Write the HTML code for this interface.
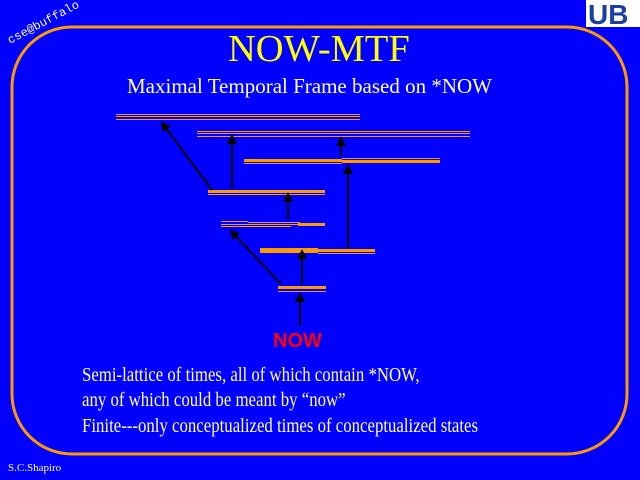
<!DOCTYPE html>
<html><head><style>
body{margin:0;width:640px;height:480px;background:#0000ff;overflow:hidden;position:relative;font-family:"Liberation Serif",serif}
.t{position:absolute;white-space:nowrap;color:#fff}
.b{font-size:20px;transform:scaleX(0.84);transform-origin:left}
</style></head><body>
<svg width="640" height="480" style="position:absolute;left:0;top:0">
<defs><marker id="a" markerWidth="10" markerHeight="10" refX="8" refY="5" orient="auto" markerUnits="userSpaceOnUse"><path d="M0,0 L10,5 L0,10 z" fill="#000"/></marker></defs>
<rect x="12" y="27" width="615" height="427" rx="60" ry="60" fill="none" stroke="#ff9900" stroke-width="3"/>
<g fill="#ff9900">
<rect x="116" y="114" width="244" height="1"/><rect x="116" y="116" width="244" height="1"/><rect x="116" y="119" width="244" height="1"/>
<rect x="197" y="131" width="273" height="1"/><rect x="197" y="133" width="273" height="1"/><rect x="197" y="136" width="273" height="1"/>
<rect x="244" y="159" width="98" height="3"/><rect x="244" y="163" width="98" height="1"/>
<rect x="342" y="158" width="98" height="1"/><rect x="342" y="160" width="98" height="3"/>
<rect x="208" y="190" width="117" height="3"/><rect x="208" y="194" width="117" height="1"/>
<rect x="221" y="221" width="27" height="1"/><rect x="248" y="222" width="52" height="1"/><rect x="221" y="224" width="104" height="1"/><rect x="298" y="223" width="27" height="3"/><rect x="221" y="226" width="70" height="1"/>
<rect x="260" y="248" width="58" height="1"/><rect x="260" y="249" width="58" height="4"/>
<rect x="318" y="249" width="57" height="3"/><rect x="318" y="253" width="57" height="1"/>
<rect x="278" y="286" width="48" height="3"/><rect x="278" y="291" width="48" height="1"/>
</g>
<g stroke="#000" stroke-width="2" marker-end="url(#a)">
<line x1="212" y1="190" x2="162" y2="123"/>
<line x1="232" y1="189" x2="232" y2="136"/>
<line x1="341" y1="156" x2="341" y2="138"/>
<line x1="288" y1="220" x2="288" y2="194"/>
<line x1="348" y1="248" x2="348" y2="166"/>
<line x1="302" y1="284" x2="302" y2="251"/>
<line x1="281" y1="284" x2="231" y2="231"/>
<line x1="300" y1="326" x2="300" y2="294"/>
</g>
<text x="10" y="44" fill="#fff" font-family="Liberation Mono,monospace" font-size="12" transform="rotate(-28 10 44)">cse@buffalo</text>
<rect x="586" y="0" width="54" height="27" fill="#fff"/>
<text x="588" y="24" fill="#1a3fa0" font-family="Liberation Sans,sans-serif" font-weight="bold" font-size="28">UB</text>
</svg>
<div class="t" style="left:228px;top:27px;font-size:38.5px;color:#ffff00">NOW-MTF</div>
<div class="t" style="left:127px;top:74px;font-size:21px">Maximal Temporal Frame based on *NOW</div>
<div class="t" style="left:273px;top:330px;font-size:20px;color:#ff0000;font-weight:bold;font-family:'Liberation Sans',sans-serif">NOW</div>
<div class="t b" style="left:82px;top:364px">Semi-lattice of times, all of which contain *NOW,</div>
<div class="t b" style="left:82px;top:389px">any of which could be meant by “now”</div>
<div class="t b" style="left:82px;top:415px">Finite---only conceptualized times of conceptualized states</div>
<div class="t" style="left:8px;top:462px;font-size:11px">S.C.Shapiro</div>
</body></html>
